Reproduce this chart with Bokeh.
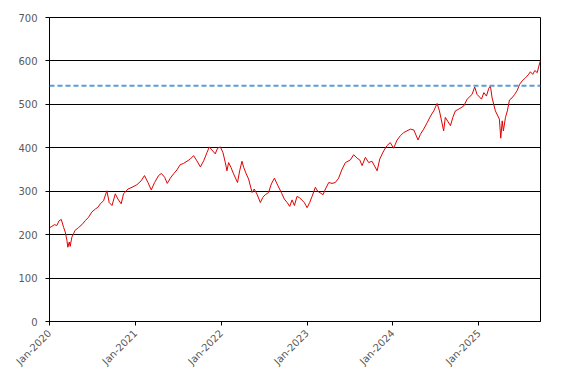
import math
import pandas as pd
from bokeh.plotting import figure
from bokeh.models import FixedTicker, DatetimeTickFormatter, Range1d, Span
from bokeh.embed import file_html
from bokeh.resources import INLINE

dates = [
    "2020-01-01", "2020-01-11", "2020-01-22", "2020-02-01", "2020-02-11", "2020-02-20",
    "2020-03-01", "2020-03-08", "2020-03-15", "2020-03-19", "2020-03-25", "2020-03-29",
    "2020-04-05", "2020-04-12", "2020-04-19", "2020-05-03", "2020-05-18", "2020-06-01",
    "2020-06-15", "2020-06-29", "2020-07-14", "2020-07-25", "2020-08-04", "2020-08-18",
    "2020-09-01", "2020-09-11", "2020-09-23", "2020-10-07", "2020-10-18", "2020-11-01",
    "2020-11-11", "2020-11-30", "2020-12-17", "2021-01-07", "2021-01-25", "2021-02-08",
    "2021-02-23", "2021-03-09", "2021-03-23", "2021-04-09", "2021-04-21", "2021-05-05",
    "2021-05-16", "2021-05-29", "2021-06-12", "2021-06-26", "2021-07-10", "2021-07-24",
    "2021-08-08", "2021-08-22", "2021-09-05", "2021-09-19", "2021-10-04", "2021-10-18",
    "2021-11-01", "2021-11-11", "2021-11-22", "2021-12-06", "2021-12-16", "2021-12-28",
    "2022-01-08", "2022-01-18", "2022-01-25", "2022-02-01", "2022-02-11", "2022-02-22",
    "2022-03-11", "2022-03-20", "2022-03-30", "2022-04-06", "2022-04-17", "2022-04-27",
    "2022-05-12", "2022-05-21", "2022-06-02", "2022-06-16", "2022-06-27", "2022-07-07",
    "2022-07-21", "2022-08-02", "2022-08-15", "2022-08-26", "2022-09-06", "2022-09-16",
    "2022-09-26", "2022-10-08", "2022-10-19", "2022-10-29", "2022-11-08", "2022-11-19",
    "2022-11-30", "2022-12-20", "2023-01-01", "2023-01-12", "2023-01-22", "2023-02-05",
    "2023-02-15", "2023-03-10", "2023-03-20", "2023-04-03", "2023-04-17", "2023-05-01",
    "2023-05-15", "2023-05-30", "2023-06-13", "2023-07-04", "2023-07-18", "2023-08-02",
    "2023-08-13", "2023-08-23", "2023-09-06", "2023-09-20", "2023-10-04", "2023-10-26",
    "2023-11-06", "2023-11-23", "2023-12-07", "2023-12-21", "2024-01-04", "2024-01-19",
    "2024-02-02", "2024-02-16", "2024-03-01", "2024-03-16", "2024-03-30", "2024-04-17",
    "2024-04-27", "2024-05-11", "2024-05-26", "2024-06-09", "2024-06-23", "2024-07-07",
    "2024-07-17", "2024-08-04", "2024-08-11", "2024-09-02", "2024-09-12", "2024-09-23",
    "2024-10-07", "2024-10-28", "2024-11-12", "2024-12-03", "2024-12-14", "2024-12-24",
    "2025-01-12", "2025-01-22", "2025-02-02", "2025-02-12", "2025-02-19", "2025-02-26",
    "2025-03-05", "2025-03-12", "2025-03-29", "2025-04-04", "2025-04-10", "2025-04-15",
    "2025-04-24", "2025-05-02", "2025-05-11", "2025-05-22", "2025-06-02", "2025-06-13",
    "2025-06-23", "2025-07-04", "2025-07-18", "2025-07-30", "2025-08-08", "2025-08-18",
    "2025-08-27", "2025-09-06", "2025-09-13", "2025-09-20",
]
prices = [
    216, 219, 223, 221, 232, 235,
    217, 206, 187, 171, 183, 173,
    194, 202, 210, 216, 223, 232,
    240, 252, 259, 263, 271, 278,
    301, 274, 267, 294, 282, 271,
    294, 305, 309, 315, 324, 336,
    320, 303, 320, 336, 341, 332,
    318, 330, 340, 349, 361, 364,
    369, 374, 382, 370, 356, 370,
    389, 402, 395, 386, 399, 402,
    389, 366, 347, 366, 355, 340,
    320, 347, 369, 355, 340, 328,
    297, 305, 293, 274, 286, 292,
    297, 317, 330, 317, 305, 294,
    282, 274, 265, 280, 267, 288,
    285, 274, 262, 274, 288, 309,
    300, 292, 305, 320, 318, 320,
    330, 351, 366, 372, 384, 376,
    372, 359, 378, 366, 369, 347,
    374, 393, 405, 412, 399, 418,
    428, 435, 439, 443, 441, 418,
    431, 443, 458, 473, 485, 502,
    485, 439, 470, 451, 470, 485,
    489, 496, 512, 523, 540, 523,
    512, 527, 519, 537, 542, 515,
    500, 485, 466, 422, 462, 439,
    470, 485, 510, 515, 523, 532,
    546, 554, 561, 568, 575, 569,
    578, 573, 588, 601,
]
reference_level = 543
y_ticks = [0, 100, 200, 300, 400, 500, 600, 700]
x_tick_dates = ["2020-01-01", "2021-01-01", "2022-01-01", "2023-01-01", "2024-01-01", "2025-01-01"]

x = pd.to_datetime(dates)
x_ticks = [pd.Timestamp(d).value / 1e6 for d in x_tick_dates]

p = figure(width=560, height=377, x_axis_type="datetime",
           output_backend="svg", toolbar_location=None,
           min_border_left=49, min_border_right=20, min_border_top=17, min_border_bottom=56)
p.x_range = Range1d(pd.Timestamp("2020-01-01"), pd.Timestamp(dates[-1]))
p.y_range = Range1d(0, 700)

p.line(x, prices, line_color="#E00000", line_width=1)
p.add_layout(Span(location=reference_level, dimension="width",
                  line_color="#5B9BD5", line_width=2, line_dash="5 3"))

p.outline_line_color = "black"
p.outline_line_width = 1
p.xgrid.grid_line_color = None
p.ygrid.grid_line_color = "black"
p.ygrid.grid_line_width = 1
p.ygrid.ticker = FixedTicker(ticks=y_ticks)

p.yaxis.ticker = FixedTicker(ticks=y_ticks)
p.xaxis.ticker = FixedTicker(ticks=x_ticks)
p.xaxis.formatter = DatetimeTickFormatter(days="%b-%Y", months="%b-%Y", years="%b-%Y")
p.xaxis.major_label_orientation = math.pi / 4

for ax in (p.xaxis, p.yaxis):
    ax.axis_line_color = "black"
    ax.major_tick_line_color = "black"
    ax.major_tick_out = 4
    ax.major_tick_in = 0
    ax.minor_tick_line_color = None
    ax.major_label_text_font = "DejaVu Sans"
    ax.major_label_text_font_size = "10px"
    ax.major_label_text_color = "#595959"
p.yaxis.major_label_standoff = 8
p.xaxis.major_label_standoff = 6

p.background_fill_color = "white"
p.border_fill_color = "white"

open("out.html", "w").write(file_html(p, INLINE))
